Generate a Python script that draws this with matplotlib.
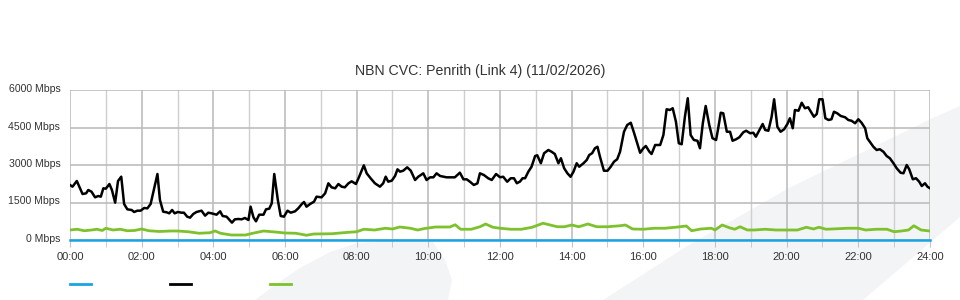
import matplotlib
matplotlib.use("Agg")
import matplotlib.pyplot as plt
from matplotlib.patches import Polygon
from matplotlib.ticker import MultipleLocator, FuncFormatter
from matplotlib.transforms import ScaledTranslation

plt.rcParams['font.family'] = ['Liberation Sans', 'DejaVu Sans']

title = "NBN CVC: Penrith (Link 4) (11/02/2026)"

# traffic, hour of day -> Mbps
black_t = [0.00, 0.07, 0.19, 0.28, 0.35, 0.45, 0.51, 0.60, 0.70, 0.79, 0.86, 0.93, 1.00, 1.10, 1.17,
           1.26, 1.34, 1.43, 1.51, 1.60, 1.72, 1.79, 1.88, 1.97, 2.07, 2.16, 2.25, 2.34, 2.44, 2.51,
           2.60, 2.70, 2.77, 2.85, 2.92, 3.01, 3.11, 3.18, 3.27, 3.35, 3.44, 3.53, 3.67, 3.77, 3.86,
           3.95, 4.09, 4.19, 4.26, 4.37, 4.52, 4.60, 4.70, 4.79, 4.88, 4.98, 5.04, 5.12, 5.19, 5.28,
           5.40, 5.47, 5.56, 5.63, 5.70, 5.80, 5.88, 5.97, 6.07, 6.16, 6.28, 6.37, 6.47, 6.53, 6.60,
           6.70, 6.81, 6.88, 7.02, 7.12, 7.21, 7.30, 7.40, 7.49, 7.58, 7.67, 7.77, 7.86, 7.98, 8.07,
           8.20, 8.28, 8.39, 8.51, 8.65, 8.74, 8.81, 8.88, 8.98, 9.07, 9.14, 9.21, 9.30, 9.41, 9.51,
           9.63, 9.72, 9.86, 9.95, 10.05, 10.14, 10.23, 10.33, 10.42, 10.51, 10.60, 10.74, 10.88,
           10.98, 11.07, 11.16, 11.27, 11.37, 11.44,
           11.55, 11.67, 11.77, 11.89, 12.00, 12.09, 12.20, 12.30, 12.39, 12.47, 12.56, 12.63, 12.70,
           12.79, 12.88, 12.98, 13.04, 13.14, 13.23, 13.35, 13.44, 13.53, 13.63, 13.70, 13.79, 13.88,
           13.97, 14.05, 14.14, 14.21, 14.33, 14.42, 14.49, 14.57, 14.65, 14.72, 14.79, 14.90, 15.00,
           15.09, 15.18, 15.27, 15.35, 15.46, 15.55, 15.65, 15.74, 15.83, 15.91, 16.00, 16.07, 16.17,
           16.23, 16.33, 16.47, 16.56, 16.65, 16.74, 16.82, 16.91, 16.99, 17.07, 17.16, 17.24, 17.32,
           17.41, 17.51, 17.58, 17.66, 17.74, 17.84, 17.93, 18.03, 18.09, 18.16, 18.23, 18.33, 18.42,
           18.49, 18.59, 18.68, 18.79, 18.87, 18.98, 19.07, 19.14, 19.24, 19.33, 19.40, 19.49, 19.58,
           19.65, 19.74, 19.83, 19.93, 20.02, 20.09, 20.17, 20.23, 20.33, 20.42, 20.51, 20.60, 20.70,
           20.76, 20.84, 20.91, 21.00, 21.08, 21.17, 21.25, 21.32, 21.41, 21.51, 21.63, 21.72, 21.81,
           21.91, 22.00, 22.09, 22.19, 22.25, 22.34, 22.42, 22.51, 22.60, 22.70, 22.79, 22.88, 22.98,
           23.07, 23.18, 23.26, 23.35, 23.42, 23.52, 23.61, 23.70, 23.77, 23.86, 23.93, 24.00]
black_v = [2200, 2133, 2360, 2067, 1840, 1867, 2000, 1933, 1707, 1760, 1733, 2067, 2053, 2240, 2000,
           1493, 2360, 2533, 1440, 1227, 1200, 1120, 1173, 1173, 1280, 1267, 1440, 2000, 2640, 1600,
           1133, 1107, 1067, 1200, 1067, 1120, 1093, 1093, 933, 893, 1040, 1120, 1173, 973, 1093,
           1067, 1013, 1147, 960, 933, 693, 827, 840, 827, 880, 800, 1333, 907, 747, 1013,
           1013, 1227, 1253, 1467, 2640, 1600, 960, 933, 1173, 1093, 1147, 1267, 1440, 1520, 1333,
           1440, 1533, 1733, 1707, 1867, 2267, 2107, 2067, 2240, 2133, 2107, 2267, 2347, 2240, 2533,
           2987, 2667, 2467, 2267, 2133, 2267, 2533, 2333, 2373, 2560, 2827, 2733, 2773, 2907, 2773,
           2400, 2533, 2667, 2400, 2507, 2507, 2667, 2560, 2533, 2507, 2507, 2507, 2693,
           2427, 2427, 2333, 2200, 2267, 2667,
           2600, 2470, 2400, 2640, 2510, 2530, 2330, 2470, 2470, 2270, 2340, 2470, 2470,
           2730, 2930, 3360, 3390, 3070, 3470, 3600, 3530, 3440, 3070, 3270, 2870, 2670,
           2530, 2730, 3070, 2930, 3070, 3200, 3400, 3470, 3670, 3730, 3330, 2770, 2770,
           2930, 3130, 3230, 3530, 4330, 4600, 4690, 4290, 3870, 3490, 3670, 3760, 3530,
           3440, 3800, 3800, 4200, 5230, 5200, 5270, 4730, 3870, 3830, 4930, 5670, 4200,
           4000, 3970, 3670, 4670, 5360, 4600, 4070, 4000, 4470, 5090, 5070, 4330, 4330,
           3970, 4030, 4110, 4310, 4370, 4270, 4290, 4130, 4400, 4640, 4400, 4370, 4930,
           5630, 4530, 4330, 4430, 4640, 4870, 4470, 5200, 5170, 5490, 5270, 5310, 5070,
           4930, 5040, 5630, 5630, 4870, 4800, 4830, 5130, 5070, 4960, 4910, 4800, 4770,
           4670, 4830, 4690, 4470, 4070, 3890, 3730, 3600, 3630, 3530, 3360, 3270, 3070,
           2870, 2690, 2670, 3000, 2830, 2430, 2470, 2330, 2160, 2270, 2130, 2070]

green_t = [0.0, 0.2, 0.4, 0.6, 0.75, 0.9, 1.0, 1.2, 1.4, 1.6, 1.8, 2.0, 2.2, 2.5, 2.8, 3.0, 3.3, 3.6,
           3.9, 4.05, 4.2, 4.5, 4.9, 5.1, 5.4, 5.8, 6.0, 6.3, 6.6, 6.8, 7.3, 7.7, 8.0, 8.2, 8.5, 8.8,
           9.0, 9.2, 9.5, 9.7, 9.9, 10.2, 10.6, 10.75, 10.9, 11.2, 11.44, 11.6, 11.8, 12.0, 12.3,
           12.6, 12.9, 13.2, 13.4, 13.6, 13.8, 14.0, 14.2, 14.45, 14.7, 15.0, 15.35, 15.5, 15.7,
           16.0, 16.3, 16.6, 16.9, 17.2, 17.35, 17.6, 17.9, 18.0, 18.2, 18.4, 18.55, 18.7, 18.9,
           19.1, 19.4, 19.7, 20.0, 20.3, 20.55, 20.75, 20.9, 21.1, 21.4, 21.7, 22.0, 22.2, 22.5,
           22.8, 23.0, 23.2, 23.4, 23.55, 23.75, 24.0]
green_v = [400, 430, 370, 400, 430, 380, 470, 400, 430, 370, 380, 440, 370, 340, 360, 360, 330, 270,
           290, 360, 270, 200, 200, 270, 360, 310, 280, 270, 190, 240, 250, 300, 330, 430, 400, 470,
           440, 520, 470, 400, 460, 520, 520, 610, 430, 430, 530, 640, 510, 470, 430,
           430, 510, 670, 600, 530, 530, 600, 530, 640, 530, 530, 570, 600, 440,
           430, 470, 470, 510, 560, 370, 440, 470, 400, 600, 490, 430, 530, 400,
           400, 430, 400, 400, 400, 510, 440, 510, 430, 450, 470, 470, 400, 430,
           430, 330, 360, 400, 570, 400, 360]

blue_t = [0, 24]
blue_v = [0, 0]

y_ticks = [0, 1500, 3000, 4500, 6000]
x_labels = ["00:00", "02:00", "04:00", "06:00", "08:00", "10:00", "12:00",
            "14:00", "16:00", "18:00", "20:00", "22:00", "24:00"]

fig = plt.figure(figsize=(9.6, 3.0), dpi=100)
fig.patch.set_facecolor("white")

# faint background swooshes (pixel coords, y from top)
def px(pts):
    return [(x / 960, 1 - y / 300) for x, y in pts]

swoosh = "#f3f4f6"
fig.patches.append(Polygon(px([(255, 300), (275, 285), (300, 268), (330, 252), (357, 243),
                               (400, 240), (432, 241), (445, 260), (452, 280), (448, 300)]),
                           closed=True, transform=fig.transFigure, facecolor=swoosh,
                           edgecolor="none", zorder=-5))
fig.patches.append(Polygon(px([(603, 300), (689, 245), (789, 188), (933, 118), (960, 106),
                               (960, 217), (863, 300)]),
                           closed=True, transform=fig.transFigure, facecolor=swoosh,
                           edgecolor="none", zorder=-5))

ax = fig.add_axes([70 / 960, 0.2, 860 / 960, 0.5], zorder=1)
ax.patch.set_alpha(0)

ax.plot(black_t, black_v, color="black", lw=1.8, zorder=4)
ax.plot(green_t, green_v, color="#7dc22c", lw=2.0, zorder=4)
ax.plot(blue_t, blue_v, color="#1aa3e2", lw=1.8, zorder=5, clip_on=False)

ax.set_xlim(0, 24)
ax.set_ylim(0, 6000)
ax.xaxis.set_minor_locator(MultipleLocator(1))
ax.set_xticks(range(0, 25, 2))
ax.set_xticklabels(x_labels)
ax.set_yticks(y_ticks)
ax.yaxis.set_major_formatter(FuncFormatter(lambda v, p: f"{v:.0f} Mbps"))

ax.grid(True, which="major", color="#bdbdbd", lw=1.2)
ax.grid(True, which="minor", axis="x", color="#cfcfcf", lw=1.0)
for s in ax.spines.values():
    s.set_visible(False)
ax.tick_params(axis="x", which="both", length=5, color="#c4c4c4", pad=4,
               labelsize=8, labelcolor="#333333")
ax.tick_params(axis="y", length=0, pad=7, labelsize=7.6, labelcolor="#333333")
up = ScaledTranslation(0, 2 / 100, fig.dpi_scale_trans)
for lbl in ax.get_yticklabels():
    lbl.set_transform(lbl.get_transform() + up)

fig.text(0.5, 1 - 71 / 300, title, ha="center", va="center", fontsize=10.2, color="#333333")

handles = [plt.Line2D([], [], color="#1aa3e2", lw=2),
           plt.Line2D([], [], color="black", lw=2),
           plt.Line2D([], [], color="#7dc22c", lw=2)]
fig.legend(handles, ["", "", ""], ncol=3, frameon=False, loc="center left",
           bbox_to_anchor=(70 / 960, 1 - 285 / 300), borderpad=0, borderaxespad=0,
           handlelength=1.9, handletextpad=0, columnspacing=7.1, fontsize=8)

fig.savefig("out.png", dpi=100)
